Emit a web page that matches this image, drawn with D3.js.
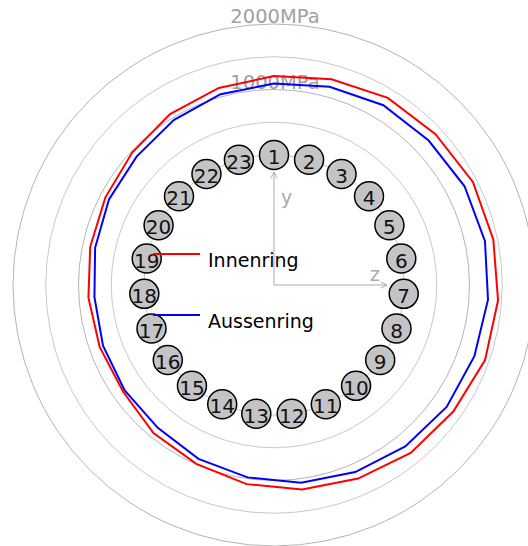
<!DOCTYPE html>
<html lang="de">
<head>
<meta charset="UTF-8">
<title>Lagerlast</title>
<style>
    body { margin: 0; overflow: hidden; background: #fff; }
    text { font-family: "DejaVu Sans", Verdana, sans-serif; }
</style>
</head>
<body>
<svg id="chart" width="528" height="546"></svg>
<script src="https://cdn.jsdelivr.net/npm/d3@7/dist/d3.min.js"></script>
<script>
    // Waelzkoerper-Nummern
    const balls = [1, 2, 3, 4, 5, 6, 7, 8, 9, 10, 11, 12, 13, 14, 15, 16, 17, 18, 19, 20, 21, 22, 23];
    // Pressung je Waelzkoerper in MPa
    const innenring = [1206, 1276, 1359, 1389, 1435, 1435, 1444, 1435, 1366, 1322, 1237, 1165,
        1084, 992, 931, 837, 840, 855, 881, 916, 977, 1069, 1139];
    const aussenring = [1090, 1159, 1228, 1246, 1292, 1305, 1290, 1262, 1242, 1191, 1129, 1061,
        980, 909, 826, 805, 786, 763, 805, 853, 886, 962, 1041];
    const gridValues = [500, 1000, 1500, 2000];
    const gridLabels = [1000, 2000];
    const series = [
        { name: "Innenring", values: innenring, color: "#ff0000" },
        { name: "Aussenring", values: aussenring, color: "#0000ff" }
    ];

    const cx = 274, cy = 285;
    const svg = d3.select("#chart");
    const g = svg.append("g").attr("transform", "translate(" + cx + "," + cy + ")");

    const r = d3.scaleLinear().domain([0, 2000]).range([130, 261]);
    const angle = d3.scaleLinear().domain([0, balls.length]).range([0, 2 * Math.PI]);

    // Gitterkreise
    g.selectAll(".grid")
        .data(gridValues)
        .enter()
        .append("circle")
        .attr("class", "grid")
        .attr("r", d => r(d))
        .attr("fill", "none")
        .attr("stroke", d => d % 1000 === 0 ? "#b4b4b4" : "#c8c8c8")
        .attr("stroke-width", 1);

    g.selectAll(".gridlabel")
        .data(gridLabels)
        .enter()
        .append("text")
        .attr("class", "gridlabel")
        .attr("x", 1)
        .attr("y", d => -r(d) - 1)
        .attr("text-anchor", "middle")
        .attr("font-size", 19.5)
        .attr("fill", "#a0a0a0")
        .text(d => d + "MPa");

    // Kaefig
    g.append("circle")
        .attr("r", r(0))
        .attr("fill", "none")
        .attr("stroke", "#c8c8c8");

    // Achsen
    const defs = svg.append("defs");
    defs.append("marker")
        .attr("id", "arrow")
        .attr("viewBox", "0 -5 10 10")
        .attr("refX", 9)
        .attr("refY", 0)
        .attr("orient", "auto")
        .attr("markerWidth", 8)
        .attr("markerHeight", 8)
        .attr("markerUnits", "userSpaceOnUse")
        .append("path")
        .attr("d", "M 1,-4 L 9,0 L 1,4")
        .attr("fill", "none")
        .attr("stroke", "#aaaaaa")
        .attr("stroke-width", 1.2);

    g.append("line")
        .attr("x1", 0).attr("y1", 0)
        .attr("x2", 0).attr("y2", -113)
        .attr("stroke", "#aaaaaa")
        .attr("marker-end", "url(#arrow)");
    g.append("line")
        .attr("x1", 0).attr("y1", 0)
        .attr("x2", 113).attr("y2", 0)
        .attr("stroke", "#aaaaaa")
        .attr("marker-end", "url(#arrow)");
    g.append("text")
        .attr("x", 7).attr("y", -81)
        .attr("font-size", 19)
        .attr("fill", "#aaaaaa")
        .text("y");
    g.append("text")
        .attr("x", 96).attr("y", -4)
        .attr("font-size", 19)
        .attr("fill", "#aaaaaa")
        .text("z");

    // Pressungsverlaeufe
    const line = d3.lineRadial()
        .angle((d, i) => angle(i))
        .radius(d => r(d))
        .curve(d3.curveLinearClosed);

    g.selectAll(".series")
        .data(series)
        .enter()
        .append("path")
        .attr("class", "series")
        .attr("d", d => line(d.values))
        .attr("fill", "none")
        .attr("stroke", d => d.color)
        .attr("stroke-width", 2);

    // Waelzkoerper
    const ball = g.selectAll(".ball")
        .data(balls)
        .enter()
        .append("g")
        .attr("class", "ball")
        .attr("transform", (d, i) => {
            const a = angle(i);
            return "translate(" + (r(0) * Math.sin(a)) + "," + (-r(0) * Math.cos(a)) + ")";
        });
    ball.append("circle")
        .attr("r", 14.5)
        .attr("fill", "#c4c4c6")
        .attr("stroke", "#000")
        .attr("stroke-width", 1.5);
    ball.append("text")
        .attr("text-anchor", "middle")
        .attr("y", 9)
        .attr("font-size", 20)
        .attr("fill", "#111")
        .text(d => d);

    // Legende
    const legend = svg.append("g").attr("transform", "translate(153,254)");
    const item = legend.selectAll(".item")
        .data(series)
        .enter()
        .append("g")
        .attr("class", "item")
        .attr("transform", (d, i) => "translate(0," + (i * 61) + ")");
    item.append("line")
        .attr("x1", 0).attr("x2", 47)
        .attr("stroke", d => d.color)
        .attr("stroke-width", 2);
    item.append("text")
        .attr("x", 55)
        .attr("y", 13)
        .attr("font-size", 19)
        .attr("fill", "#000")
        .text(d => d.name);
</script>
</body>
</html>
